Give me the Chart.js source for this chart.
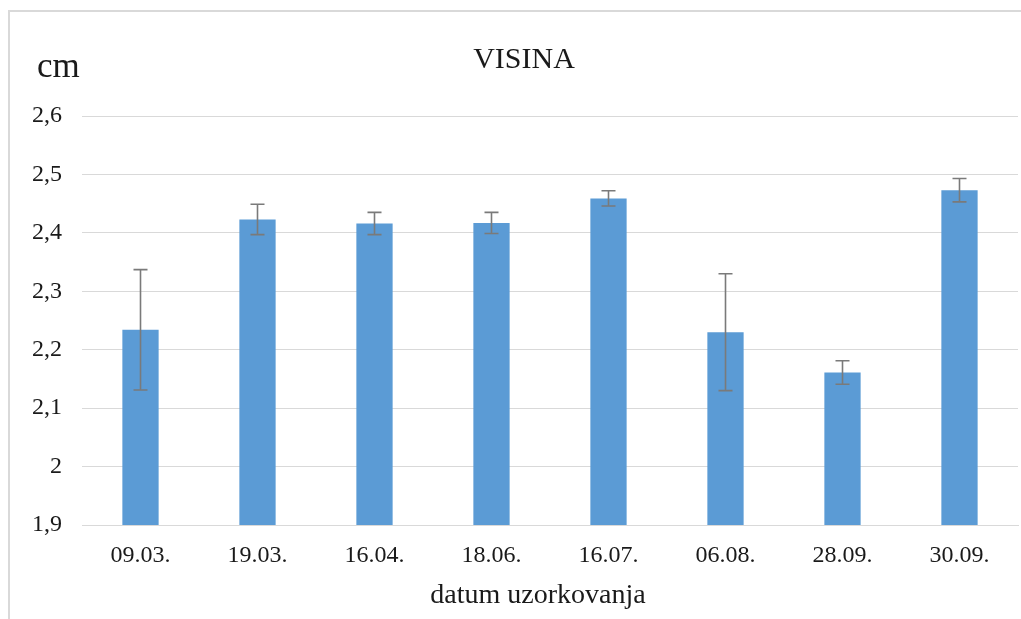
<!DOCTYPE html>
<html>
<head>
<meta charset="utf-8">
<script src="https://cdn.jsdelivr.net/npm/chart.js@4"></script>
<style>
  html, body { margin: 0; padding: 0; background: #fff; overflow: hidden; }
  #frame { position: absolute; left: 8px; top: 10px; width: 1100px; height: 700px;
           border-top: 2px solid #d9d9d9; border-left: 2px solid #d9d9d9; }
  #chart { position: absolute; left: 0; top: 0; }
</style>
</head>
<body>
<div id="frame"></div>
<canvas id="chart" width="1021" height="619"></canvas>
<script>
const dates = ['09.03.', '19.03.', '16.04.', '18.06.', '16.07.', '06.08.', '28.09.', '30.09.'];
const visina = [2.234, 2.423, 2.416, 2.417, 2.459, 2.230, 2.161, 2.473];
const greska = [0.103, 0.026, 0.019, 0.018, 0.013, 0.100, 0.020, 0.020];
const yTicks = [1.9, 2.0, 2.1, 2.2, 2.3, 2.4, 2.5, 2.6];

const serif = "'Liberation Serif', 'Times New Roman', serif";
const textColor = '#1a1a1a';

// error bars + the "cm", "VISINA" and x-axis title labels
const extras = {
  id: 'extras',
  afterDatasetsDraw(chart) {
    const ctx = chart.ctx;
    const y = chart.scales.y;
    const meta = chart.getDatasetMeta(0);
    ctx.save();
    ctx.strokeStyle = '#7a7a7a';
    ctx.lineWidth = 1.6;
    meta.data.forEach((bar, i) => {
      const top = y.getPixelForValue(visina[i] + greska[i]);
      const bot = y.getPixelForValue(visina[i] - greska[i]);
      ctx.beginPath();
      ctx.moveTo(bar.x, top); ctx.lineTo(bar.x, bot);
      ctx.moveTo(bar.x - 7, top); ctx.lineTo(bar.x + 7, top);
      ctx.moveTo(bar.x - 7, bot); ctx.lineTo(bar.x + 7, bot);
      ctx.stroke();
    });
    ctx.restore();
  },
  afterDraw(chart) {
    const ctx = chart.ctx;
    ctx.save();
    ctx.fillStyle = textColor;
    ctx.textBaseline = 'alphabetic';
    ctx.textAlign = 'center';
    ctx.font = '30px ' + serif;
    ctx.fillText('VISINA', 524, 68);
    ctx.font = '28px ' + serif;
    ctx.fillText('datum uzorkovanja', 538, 603);
    ctx.textAlign = 'left';
    ctx.font = '35px ' + serif;
    ctx.fillText('cm', 37, 77);
    ctx.restore();
  }
};

new Chart(document.getElementById('chart'), {
  type: 'bar',
  data: {
    labels: dates,
    datasets: [{
      data: visina,
      backgroundColor: '#5b9bd5',
      borderWidth: 0,
      categoryPercentage: 1,
      barPercentage: 0.31
    }]
  },
  options: {
    responsive: false,
    animation: false,
    layout: { padding: { top: 116, right: 3, left: 0, bottom: 0 } },
    plugins: { legend: { display: false }, tooltip: { enabled: false } },
    scales: {
      x: {
        grid: { display: false, drawTicks: false },
        border: { color: '#d9d9d9', width: 1 },
        ticks: { color: textColor, font: { family: serif, size: 24 }, padding: 16 },
        afterFit(scale) { scale.height = 94; }
      },
      y: {
        min: 1.9,
        max: 2.6,
        afterBuildTicks(scale) { scale.ticks = yTicks.map(v => ({ value: v })); },
        grid: { color: '#d9d9d9', lineWidth: 1, drawTicks: false },
        border: { display: false },
        ticks: {
          color: textColor,
          font: { family: serif, size: 24 },
          padding: 20,
          callback: v => String(Number(v.toFixed(1))).replace('.', ',')
        },
        afterFit(scale) { scale.width = 82; }
      }
    }
  },
  plugins: [extras]
});
</script>
</body>
</html>
